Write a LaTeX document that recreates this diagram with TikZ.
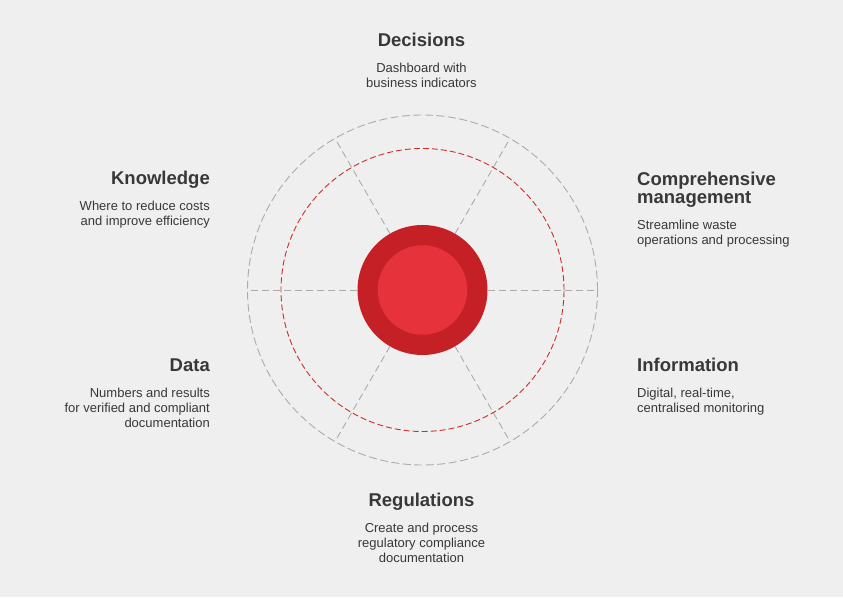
\documentclass[tikz,border=0pt]{standalone}
\usepackage{fontspec}
\setmainfont{Liberation Sans}
\usepackage{tikz}
\usetikzlibrary{positioning}
\definecolor{pback}{HTML}{EFEFEF}
\definecolor{pdark}{HTML}{C62027}
\definecolor{plight}{HTML}{E5323B}
\definecolor{pgray}{HTML}{ABABAB}
\definecolor{pdash}{HTML}{C9302A}
\definecolor{pink}{HTML}{383838}
\newcommand{\hd}[1]{{\fontsize{18.5}{20}\selectfont\bfseries #1}}

\begin{document}
\begin{tikzpicture}[x=1pt,y=1pt,
  lbl/.style={text=pink,inner sep=0pt,font=\fontsize{13}{15.2}\selectfont},
  ring/.style={draw=pgray,line width=0.9pt,dash pattern=on 8pt off 3.5pt},
  redring/.style={draw=pdash,line width=0.9pt,dash pattern=on 6pt off 3pt},
  spoke/.style={draw=pgray,line width=0.9pt,dash pattern=on 7pt off 4pt},
  disc/.style={circle,inner sep=0pt,outer sep=0pt}]
\fill[pback] (-422.5,-307) rectangle (420.5,290);
\draw[ring] (0,0) circle[radius=175];
\draw[redring] (0,0) circle[radius=141.5];
\node[disc,fill=pdark,minimum size=130pt] (hub) at (0,0) {};
\node[disc,fill=plight,minimum size=89.5pt] (core) at (0,0) {};
\foreach \a in {0,60,...,300}
  \draw[spoke] (hub.\a) -- (\a:175);

\node[lbl,anchor=north,align=center] (dec) at (-1,257.3) {%
  \hd{Decisions}\\[10.6pt]
  Dashboard with\\
  business indicators};
\node[lbl,anchor=north east,align=right] (know) at (-212.5,119.3) {%
  \hd{Knowledge}\\[10.6pt]
  Where to reduce costs\\
  and improve efficiency};
\node[lbl,anchor=north west,align=left] (comp) at (214.5,118.3) {%
  \hd{Comprehensive}\\[1.5pt]
  \hd{management}\\[10.6pt]
  Streamline waste\\
  operations and processing};
\node[lbl,anchor=north east,align=right] (data) at (-212.5,-68.7) {%
  \hd{Data}\\[10.6pt]
  Numbers and results\\
  for verified and compliant\\
  documentation};
\node[lbl,anchor=north west,align=left] (info) at (214.5,-68.1) {%
  \hd{Information}\\[10.6pt]
  Digital, real-time,\\
  centralised monitoring};
\node[lbl,anchor=north,align=center] (reg) at (-1,-202.7) {%
  \hd{Regulations}\\[10.6pt]
  Create and process\\
  regulatory compliance\\
  documentation};
\end{tikzpicture}
\end{document}
